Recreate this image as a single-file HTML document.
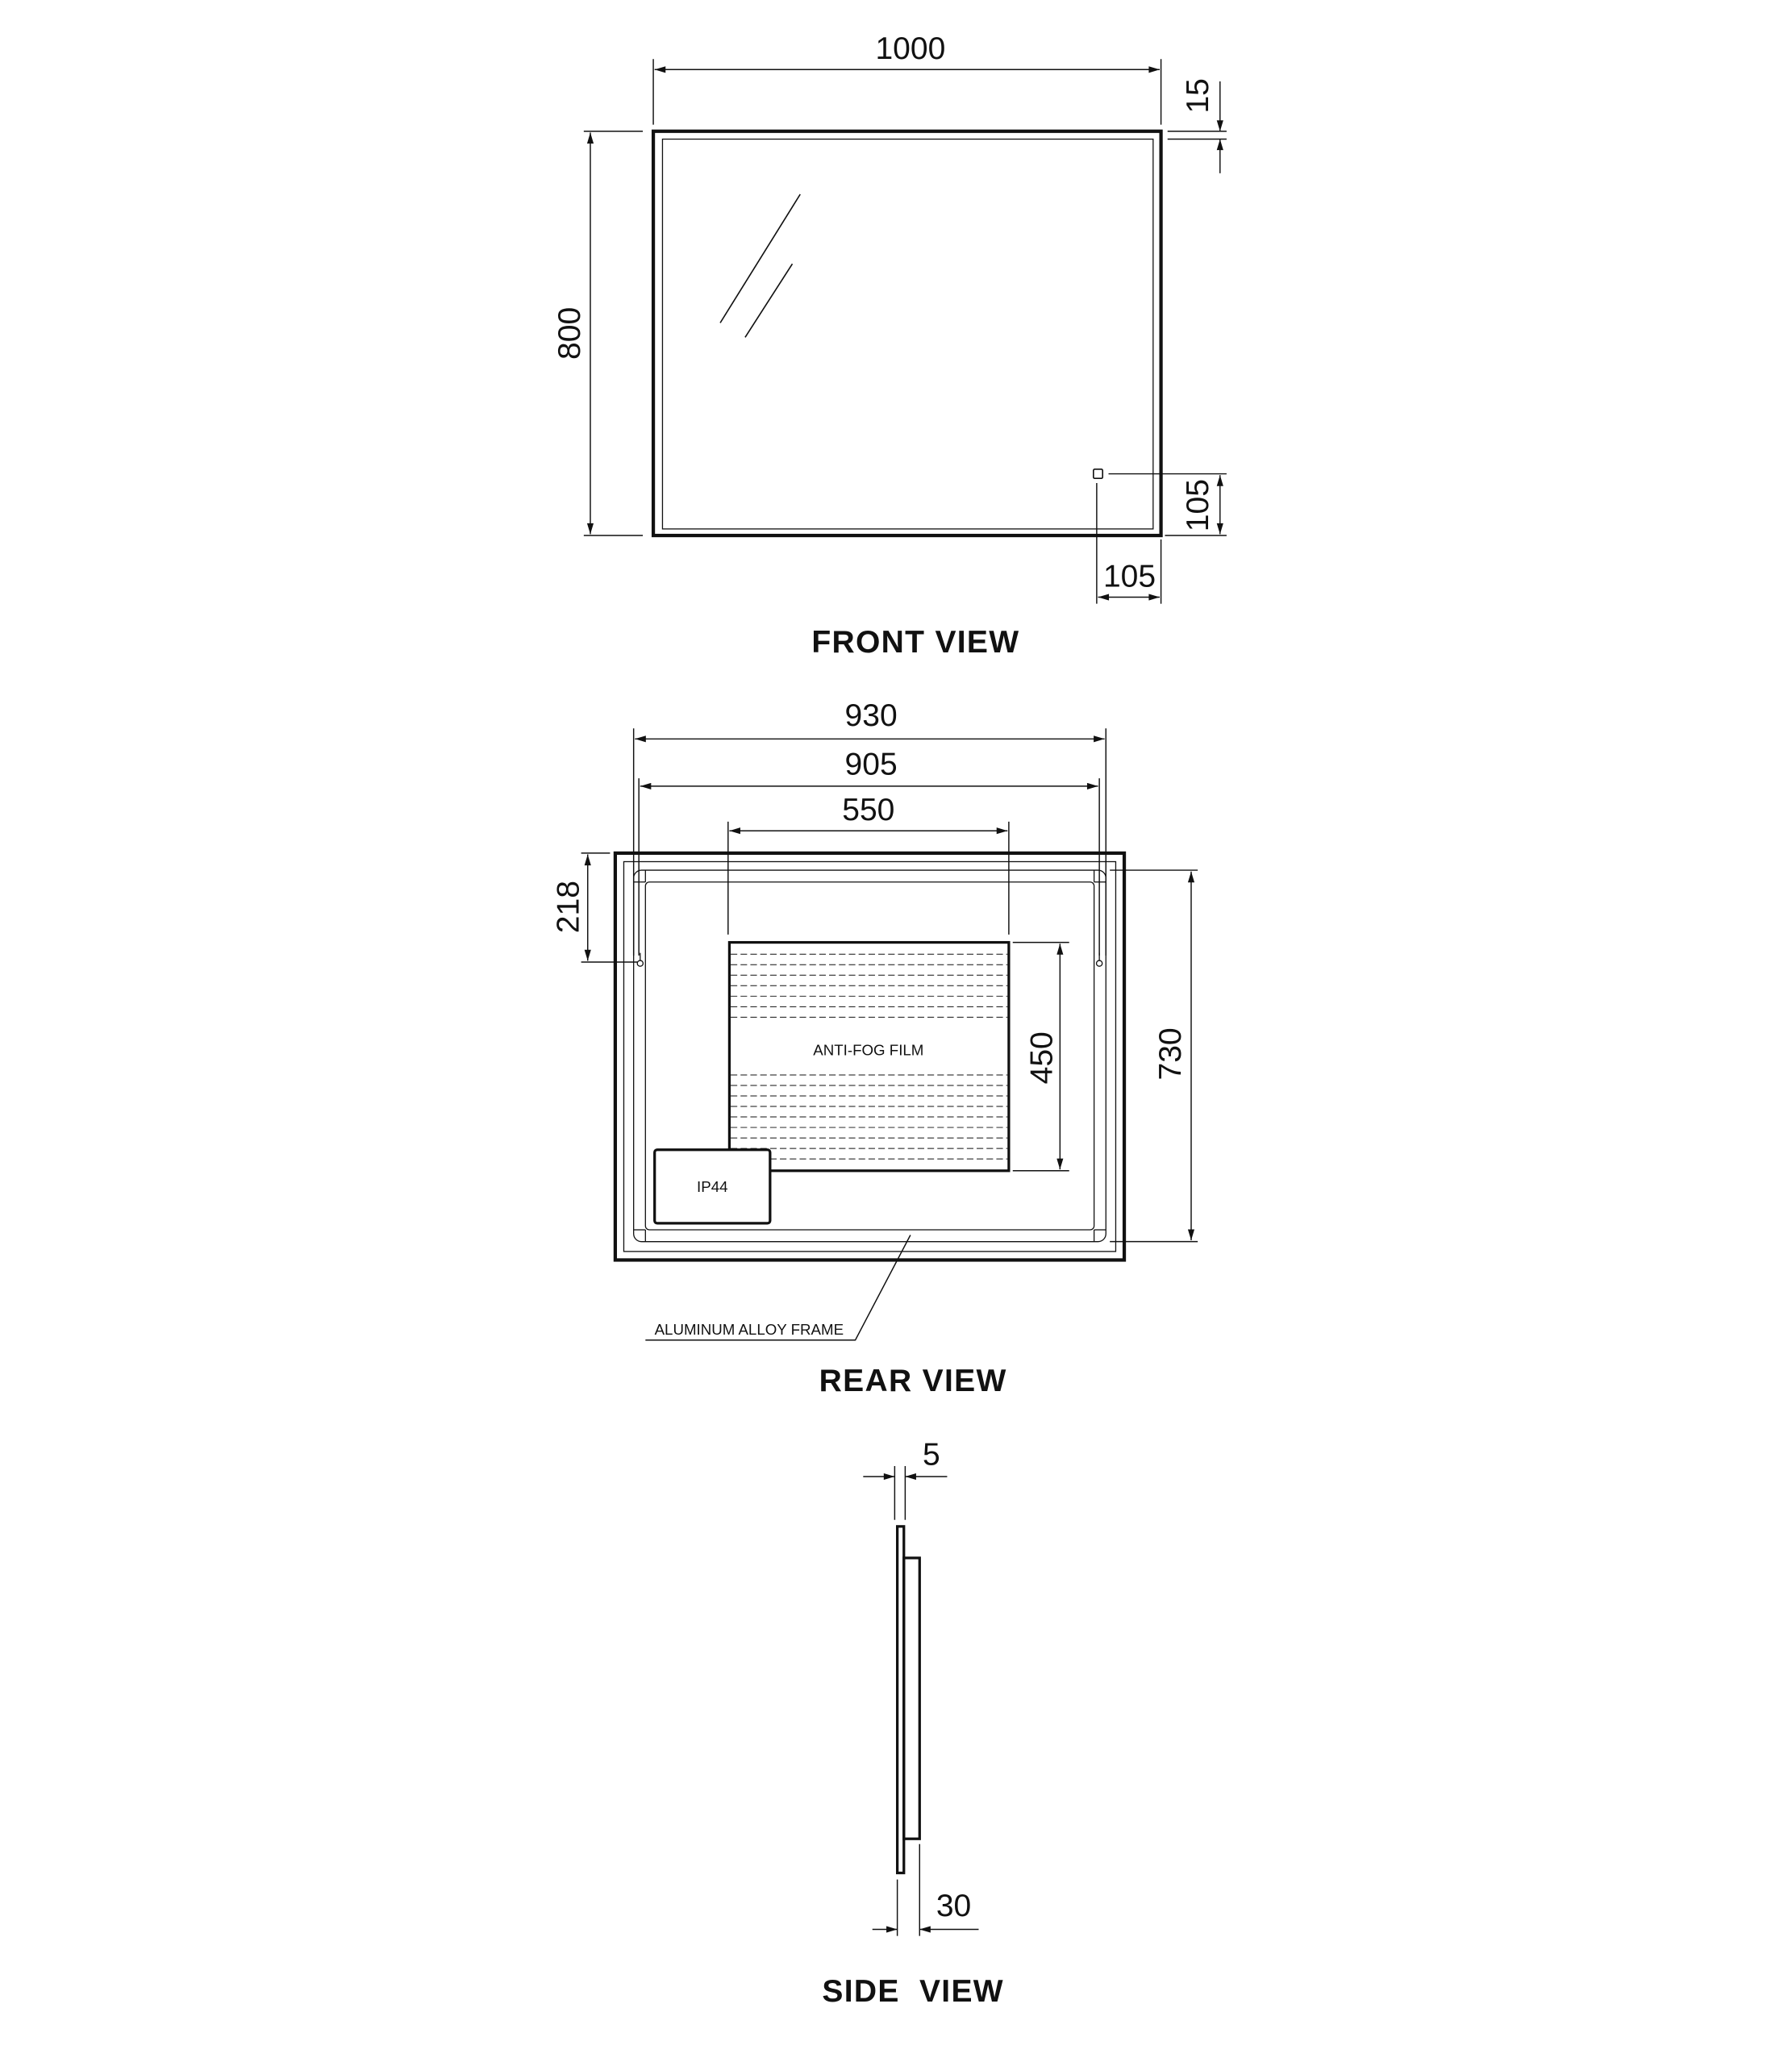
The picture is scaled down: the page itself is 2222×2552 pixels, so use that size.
<!DOCTYPE html>
<html><head><meta charset="utf-8"><style>html,body{margin:0;padding:0;background:#fff}svg{display:block}</style></head>
<body>
<svg width="2222" height="2552" viewBox="0 0 1366 1568" preserveAspectRatio="none" xmlns="http://www.w3.org/2000/svg" font-family="Liberation Sans, sans-serif">
<defs>
<marker id="a" viewBox="0 0 10 6" refX="10" refY="3" markerWidth="10" markerHeight="5" markerUnits="userSpaceOnUse" orient="auto-start-reverse"><path d="M0,0 L10,3 L0,6 z" fill="#111"/></marker>
</defs>
<g stroke="#111" fill="none">
<!-- FRONT -->
<rect x="498" y="100" width="387" height="308" stroke-width="2.6"/>
<rect x="505" y="106" width="374" height="297" stroke-width="0.8"/>
<line x1="549" y1="246" x2="610" y2="148" stroke-width="1"/>
<line x1="568" y1="257" x2="604" y2="201" stroke-width="1"/>
<rect x="833.5" y="357.5" width="7" height="7" rx="1" stroke-width="1"/>
<g stroke-width="0.9">
<line x1="498" y1="45" x2="498" y2="95"/><line x1="885" y1="45" x2="885" y2="95"/>
<line x1="499" y1="53" x2="884" y2="53" marker-start="url(#a)" marker-end="url(#a)"/>
<line x1="890" y1="100" x2="935" y2="100"/><line x1="890" y1="106" x2="935" y2="106"/>
<line x1="930" y1="62" x2="930" y2="100" marker-end="url(#a)"/>
<line x1="930" y1="132" x2="930" y2="106" marker-end="url(#a)"/>
<line x1="445" y1="100" x2="490" y2="100"/><line x1="445" y1="408" x2="490" y2="408"/>
<line x1="450" y1="101" x2="450" y2="407" marker-start="url(#a)" marker-end="url(#a)"/>
<line x1="845" y1="361" x2="935" y2="361"/><line x1="888" y1="408" x2="935" y2="408"/>
<line x1="930" y1="362" x2="930" y2="407" marker-start="url(#a)" marker-end="url(#a)"/>
<line x1="836" y1="368" x2="836" y2="460"/><line x1="885" y1="411" x2="885" y2="460"/>
<line x1="837" y1="455" x2="884" y2="455" marker-start="url(#a)" marker-end="url(#a)"/>
</g>
<!-- REAR -->
<rect x="469" y="650" width="388" height="310" stroke-width="2.6"/>
<rect x="475.5" y="656.5" width="375" height="297" stroke-width="0.8"/>
<rect x="483" y="663" width="360" height="283" rx="6" stroke-width="0.8"/>
<rect x="492" y="672" width="342" height="265" rx="3" stroke-width="0.8"/>
<line x1="483" y1="672" x2="492" y2="672" stroke-width="0.8"/><line x1="483" y1="937" x2="492" y2="937" stroke-width="0.8"/>
<line x1="834" y1="672" x2="843" y2="672" stroke-width="0.8"/><line x1="834" y1="937" x2="843" y2="937" stroke-width="0.8"/>
<line x1="492" y1="663" x2="492" y2="672" stroke-width="0.8"/><line x1="834" y1="663" x2="834" y2="672" stroke-width="0.8"/>
<line x1="492" y1="937" x2="492" y2="946" stroke-width="0.8"/><line x1="834" y1="937" x2="834" y2="946" stroke-width="0.8"/>
<g stroke-width="0.6" stroke-dasharray="5,2.5">
<line x1="557" y1="727" x2="768" y2="727"/><line x1="557" y1="735" x2="768" y2="735"/><line x1="557" y1="743" x2="768" y2="743"/><line x1="557" y1="751" x2="768" y2="751"/><line x1="557" y1="759" x2="768" y2="759"/><line x1="557" y1="767" x2="768" y2="767"/><line x1="557" y1="775" x2="768" y2="775"/>
<line x1="557" y1="819" x2="768" y2="819"/><line x1="557" y1="827" x2="768" y2="827"/><line x1="557" y1="835" x2="768" y2="835"/><line x1="557" y1="843" x2="768" y2="843"/><line x1="557" y1="851" x2="768" y2="851"/><line x1="557" y1="859" x2="768" y2="859"/><line x1="557" y1="867" x2="768" y2="867"/><line x1="557" y1="875" x2="768" y2="875"/><line x1="557" y1="883" x2="768" y2="883"/>
</g>
<rect x="556" y="718" width="213" height="174" stroke-width="2"/>
<rect x="499" y="876" width="88" height="56" rx="2" stroke-width="2" fill="#fff"/>
<g stroke-width="0.9">
<line x1="483" y1="555" x2="483" y2="728"/><line x1="843" y1="555" x2="843" y2="728"/>
<line x1="484" y1="563" x2="842" y2="563" marker-start="url(#a)" marker-end="url(#a)"/>
<line x1="487" y1="593" x2="487" y2="728"/><line x1="838" y1="593" x2="838" y2="728"/>
<line x1="488" y1="599" x2="837" y2="599" marker-start="url(#a)" marker-end="url(#a)"/>
<line x1="555" y1="626" x2="555" y2="712"/><line x1="769" y1="626" x2="769" y2="712"/>
<line x1="556" y1="633" x2="768" y2="633" marker-start="url(#a)" marker-end="url(#a)"/>
<line x1="772" y1="718" x2="815" y2="718"/><line x1="772" y1="892" x2="815" y2="892"/>
<line x1="808" y1="719" x2="808" y2="891" marker-start="url(#a)" marker-end="url(#a)"/>
<line x1="846" y1="663" x2="913" y2="663"/><line x1="846" y1="946" x2="913" y2="946"/>
<line x1="908" y1="664" x2="908" y2="945" marker-start="url(#a)" marker-end="url(#a)"/>
<line x1="443" y1="650" x2="465" y2="650"/><line x1="443" y1="733" x2="486" y2="733"/>
<line x1="448" y1="651" x2="448" y2="732" marker-start="url(#a)" marker-end="url(#a)"/>
<polyline points="694,941 652,1021 492,1021"/>
</g>
<g stroke-width="0.8" fill="#fff">
<circle cx="488" cy="734" r="2.2"/><line x1="488" y1="726" x2="488" y2="732"/>
<circle cx="838" cy="734" r="2.2"/><line x1="838" y1="726" x2="838" y2="732"/>
</g>
<!-- SIDE -->
<rect x="684" y="1163" width="5" height="264" stroke-width="2"/>
<rect x="689" y="1187" width="12" height="214" stroke-width="2"/>
<g stroke-width="0.9">
<line x1="682" y1="1117" x2="682" y2="1158"/><line x1="690" y1="1117" x2="690" y2="1158"/>
<line x1="658" y1="1125" x2="682" y2="1125" marker-end="url(#a)"/>
<line x1="722" y1="1125" x2="690" y2="1125" marker-end="url(#a)"/>
<line x1="684" y1="1432" x2="684" y2="1475"/><line x1="701" y1="1405" x2="701" y2="1475"/>
<line x1="665" y1="1470" x2="684" y2="1470" marker-end="url(#a)"/>
<line x1="746" y1="1470" x2="701" y2="1470" marker-end="url(#a)"/>
</g>
</g>
<g fill="#111" font-size="24" text-anchor="middle">
<text x="694" y="45">1000</text>
<text transform="translate(921,73) rotate(-90)">15</text>
<text transform="translate(442,254) rotate(-90)">800</text>
<text transform="translate(921,385) rotate(-90)">105</text>
<text x="861" y="447">105</text>
<text x="664" y="553">930</text>
<text x="664" y="590">905</text>
<text x="662" y="625">550</text>
<text transform="translate(441,691) rotate(-90)">218</text>
<text transform="translate(802,806) rotate(-90)">450</text>
<text transform="translate(900,803) rotate(-90)">730</text>
<text x="710" y="1116">5</text>
<text x="727" y="1460">30</text>
<g font-size="11.5"><text x="662" y="804">ANTI-FOG FILM</text><text x="543" y="908">IP44</text><text x="571" y="1017">ALUMINUM ALLOY FRAME</text></g>
<g font-size="24" font-weight="bold" letter-spacing="0.8"><text x="698" y="497">FRONT VIEW</text><text x="696" y="1060">REAR VIEW</text><text x="696" y="1525" xml:space="preserve">SIDE  VIEW</text></g>
</g>
</svg>
</body></html>
